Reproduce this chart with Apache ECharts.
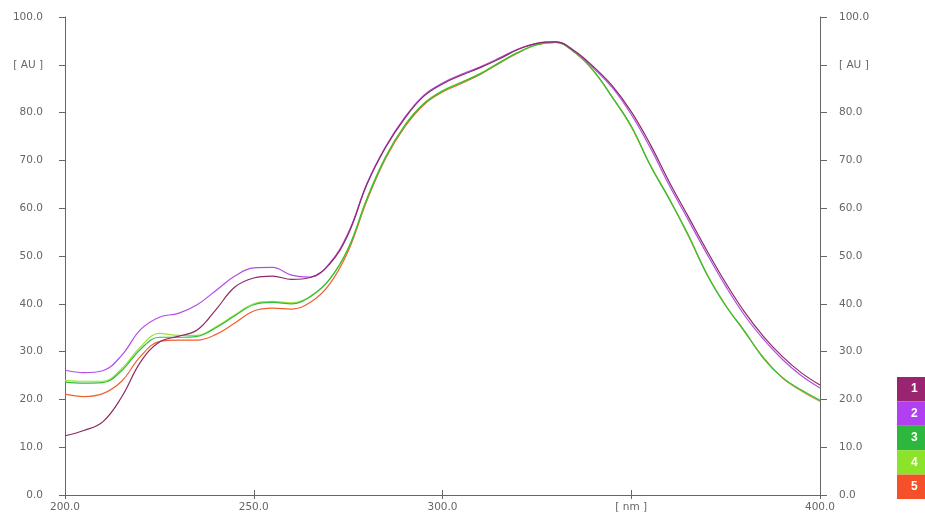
<!DOCTYPE html>
<html>
<head>
<meta charset="utf-8">
<script src="https://cdn.jsdelivr.net/npm/echarts@6/dist/echarts.min.js"></script>
<style>html,body{margin:0;padding:0;background:#fff}#c{width:925px;height:517px}</style>
</head>
<body>
<div id="c"></div>
<script>
var wavelengths = [200,205,210,215,220,225,230,235,240,245,250,255,260,265,270,275,280,285,290,295,300,305,310,315,320,325,330,335,340,345,350,355,360,365,370,375,380,385,390,395,400];
var series1 = [12.4,13.5,15.3,20.5,27.8,32.0,33.2,34.5,38.8,43.5,45.4,45.8,45.1,45.5,48.2,54.5,65.0,72.8,78.8,83.4,86.0,87.8,89.4,91.2,93.2,94.5,94.8,92.9,89.6,85.6,80.2,73.4,65.6,58.4,51.2,44.4,38.3,33.2,29.0,25.6,23.0];
var series2 = [26.1,25.6,26.0,29.2,34.6,37.2,38.0,39.8,42.8,45.8,47.5,47.6,46.0,45.6,48.4,54.8,65.2,73.0,79.0,83.6,86.2,88.0,89.6,91.4,93.3,94.5,94.8,92.8,89.3,85.2,79.6,72.7,64.9,57.7,50.5,43.7,37.6,32.6,28.4,25.0,22.4];
var series3 = [23.6,23.4,23.5,26.0,30.5,33.0,33.0,33.2,35.0,37.5,39.8,40.3,40.0,41.5,45.0,51.5,62.0,70.8,77.3,81.8,84.5,86.3,88.1,90.4,92.6,94.2,94.7,92.6,88.8,83.2,77.2,69.0,62.0,54.6,46.2,39.6,34.3,28.6,24.6,22.0,19.8];
var series4 = [24.0,23.8,23.8,26.4,31.0,33.8,33.4,33.4,35.2,37.7,40.0,40.5,40.2,41.6,45.1,51.6,62.1,70.9,77.4,81.9,84.6,86.4,88.2,90.5,92.6,94.2,94.7,92.6,88.7,83.2,77.1,69.1,62.0,54.5,46.3,39.7,34.3,28.7,24.6,21.9,19.7];
var series5 = [21.1,20.6,21.2,23.8,29.0,32.1,32.4,32.4,33.6,36.0,38.5,39.1,38.9,40.3,44.0,51.0,61.6,70.5,77.0,81.6,84.3,86.1,88.0,90.3,92.5,94.2,94.7,92.6,88.7,83.2,77.0,69.1,62.1,54.4,46.3,39.7,34.2,28.8,24.5,21.8,19.6];
var seriesNames = ['1','2','3','4','5'];
var yTickLabels = {0:'0.0',10:'10.0',20:'20.0',30:'30.0',40:'40.0',50:'50.0',60:'60.0',70:'70.0',80:'80.0',90:'[ AU ]',100:'100.0'};
var xTickLabels = {200:'200.0',250:'250.0',300:'300.0',350:'[ nm ]',400:'400.0'};

var lineColors = ['#8e2a62','#b24ee6','#2fbf3a','#9ee03a','#f0602e'];
var legendColors = ['#9a2470','#b040f0','#2db83d','#8be32a','#f5502a'];
var allSeries = [series1, series2, series3, series4, series5];
var zOrder = [6,5,4,3,2];

function pairs(vals){ return wavelengths.map(function(w,i){ return [w, vals[i]]; }); }

var axisColor = '#666';
var labelStyle = {color:'#666', fontSize:10.5, fontFamily:'DejaVu Sans, sans-serif'};

var chart = echarts.init(document.getElementById('c'), null, {renderer:'canvas'});
var legendGraphics = [];
seriesNames.forEach(function(n,i){
  legendGraphics.push({type:'rect', left:897, top:377 + i*24.4, shape:{width:28, height:24.4}, style:{fill:legendColors[i]}});
  legendGraphics.push({type:'text', left:911, top:383 + i*24.4, style:{text:n, fill:'#fff', font:'bold 12px Liberation Sans, Arial, sans-serif'}});
});

chart.setOption({
  backgroundColor:'#ffffff',
  animation:false,
  grid:{left:65, right:105, top:17, bottom:22, containLabel:false},
  xAxis:[{
    type:'value', min:200, max:400, interval:50, position:'bottom',
    axisLine:{show:true, lineStyle:{color:axisColor, width:1}},
    axisTick:{show:true, length:4, lineStyle:{color:axisColor}},
    splitLine:{show:false},
    axisLabel:Object.assign({margin:7, formatter:function(v){return xTickLabels[v]||'';}}, labelStyle)
  },{
    type:'value', min:200, max:400, interval:50, position:'top',
    axisLine:{show:true, lineStyle:{color:axisColor, width:1}},
    axisTick:{show:true, length:5, lineStyle:{color:axisColor}},
    splitLine:{show:false}, axisLabel:{show:false}
  }],
  yAxis:[{
    type:'value', min:0, max:100, interval:10, position:'left',
    axisLine:{show:true, lineStyle:{color:axisColor, width:1}},
    axisTick:{show:true, length:6, lineStyle:{color:axisColor}},
    splitLine:{show:false},
    axisLabel:Object.assign({margin:22, formatter:function(v){return yTickLabels[v]||'';}}, labelStyle)
  },{
    type:'value', min:0, max:100, interval:10, position:'right',
    axisLine:{show:true, lineStyle:{color:axisColor, width:1}},
    axisTick:{show:true, length:7, lineStyle:{color:axisColor}},
    splitLine:{show:false},
    axisLabel:Object.assign({margin:19, formatter:function(v){return yTickLabels[v]||'';}}, labelStyle)
  }],
  graphic:legendGraphics,
  series: allSeries.map(function(vals,i){
    return {
      name:seriesNames[i], type:'line', data:pairs(vals), smooth:0.4, showSymbol:false,
      xAxisIndex:0, yAxisIndex:0, z:zOrder[i],
      lineStyle:{color:lineColors[i], width:1.2}
    };
  })
});
</script>
</body>
</html>
